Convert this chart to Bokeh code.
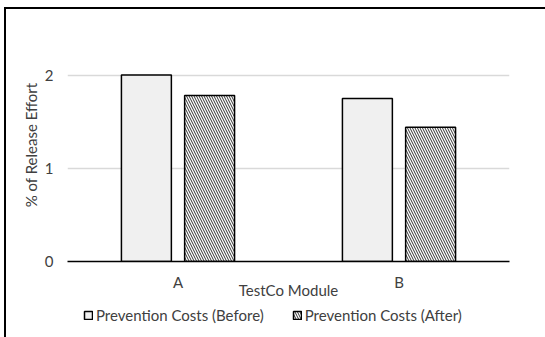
from bokeh.plotting import figure
from bokeh.layouts import column
from bokeh.models import (ColumnDataSource, FactorRange, Range1d, Legend, LegendItem,
                          FixedTicker)
from bokeh.transform import dodge
from bokeh.embed import file_html
from bokeh.resources import INLINE

# Data
modules = ["A", "B"]
before = [2.0, 1.75]
after = [1.78, 1.44]
y_ticks = [0, 1, 2]
series_labels = ["Prevention Costs (Before)", "Prevention Costs (After)"]

FONT = "Lato"
TEXT = "#404040"
BEFORE_STYLE = dict(fill_color="#f0f0f0", line_color="black", line_width=1.5)
AFTER_STYLE = dict(fill_color="white", line_color="black", line_width=1.5,
                   hatch_pattern="left_diagonal_line", hatch_color="#333333",
                   hatch_scale=5, hatch_weight=1)

src = ColumnDataSource(data=dict(module=modules, before=before, after=after))

# Main bar chart
p = figure(
    x_range=FactorRange(factors=modules, range_padding=0),
    y_range=Range1d(0, 2.5),
    width=539, height=295,
    output_backend="svg", toolbar_location=None,
    min_border_left=61, min_border_right=36,
    min_border_top=19, min_border_bottom=43,
)
p.outline_line_color = None

bar_w = 0.226
p.vbar(x=dodge("module", -0.143, range=p.x_range), top="before", width=bar_w,
       source=src, **BEFORE_STYLE)
p.vbar(x=dodge("module", 0.143, range=p.x_range), top="after", width=bar_w,
       source=src, **AFTER_STYLE)

# y axis
p.yaxis.ticker = FixedTicker(ticks=y_ticks)
p.yaxis.axis_line_color = None
p.yaxis.major_tick_line_color = None
p.yaxis.minor_tick_line_color = None
p.yaxis.major_tick_out = 0
p.yaxis.major_tick_in = 0
p.yaxis.major_label_standoff = 14
p.yaxis.axis_label = "% of Release Effort"
p.yaxis.axis_label_standoff = 2
p.yaxis.axis_label_text_font_style = "normal"

# x axis
p.xaxis.axis_line_color = "black"
p.xaxis.axis_line_width = 1.5
p.xaxis.major_tick_line_color = None
p.xaxis.minor_tick_line_color = None
p.xaxis.major_tick_out = 0
p.xaxis.major_tick_in = 0
p.xaxis.major_label_standoff = 11
p.xaxis.axis_label = "TestCo Module"
p.xaxis.axis_label_standoff = -13
p.xaxis.axis_label_text_font_style = "normal"

for ax in (p.xaxis, p.yaxis):
    ax.major_label_text_font = FONT
    ax.major_label_text_font_size = "15px"
    ax.major_label_text_color = TEXT
    ax.axis_label_text_font = FONT
    ax.axis_label_text_font_size = "15px"
    ax.axis_label_text_color = TEXT

p.xgrid.grid_line_color = None
p.ygrid.ticker = FixedTicker(ticks=[1, 2])
p.ygrid.grid_line_color = "#d9d9d9"
p.ygrid.grid_line_width = 1.5

# Legend strip underneath the chart (its frame lines up with the chart's frame)
leg = figure(width=539, height=33, x_range=Range1d(0, 1), y_range=Range1d(0, 1),
             x_axis_type=None, y_axis_type=None, min_border=0,
             output_backend="svg", toolbar_location=None)
leg.outline_line_color = None
leg.grid.visible = False
# zero-size legend key carriers, placed outside the visible part of the strip
k1 = leg.vbar(x=[0.5], bottom=[-5], top=[-5], width=0, **BEFORE_STYLE)
k2 = leg.vbar(x=[0.5], bottom=[-5], top=[-5], width=0, **AFTER_STYLE)
legend = Legend(
    items=[LegendItem(label=series_labels[0], renderers=[k1]),
           LegendItem(label=series_labels[1], renderers=[k2])],
    orientation="horizontal", location=(16, 13),
    glyph_width=10, glyph_height=10, label_standoff=3, spacing=28,
    padding=0, margin=0,
    label_text_font=FONT, label_text_font_size="15px", label_text_color=TEXT,
    border_line_alpha=0, background_fill_alpha=0,
)
leg.add_layout(legend, "center")

layout = column(p, leg, spacing=0)
layout.styles = {"border-top": "2px solid black", "border-left": "2px solid black",
                 "margin-left": "4px", "margin-top": "7px"}

open("out.html", "w").write(file_html(layout, INLINE))
